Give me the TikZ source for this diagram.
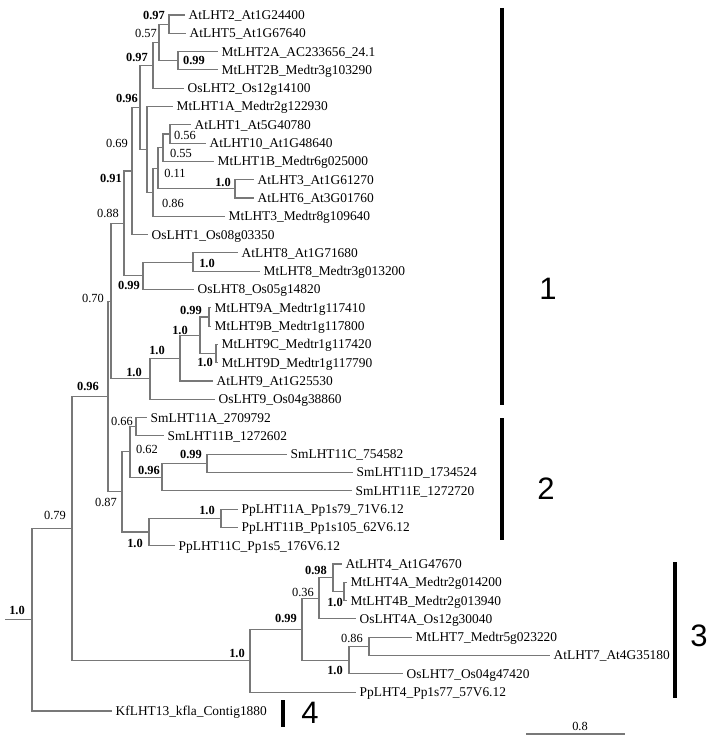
\documentclass[tikz,border=0pt]{standalone}
\usepackage{fontspec}
\setmainfont{Liberation Serif}
\newfontfamily\cladefont{Liberation Sans}
\definecolor{treegray}{RGB}{120,120,120}
\begin{document}
\begin{tikzpicture}[x=1pt,y=-1pt,
  br/.style={draw=treegray, line width=1.1pt},
  leaf/.style={anchor=west, inner xsep=3.5pt, inner ysep=0pt, font=\fontsize{13.4}{14}\selectfont, text height=8.9pt, text depth=0pt},
  bsr/.style={inner sep=0pt, font=\fontsize{12.4}{13}\selectfont, text height=8.4pt, text depth=0pt},
  bsb/.style={bsr, font=\fontsize{12.4}{13}\selectfont\bfseries},
  cbar/.style={line width=4pt, black},
  cl/.style={font=\cladefont\fontsize{31}{32}\selectfont, inner sep=0pt, text height=22pt, text depth=0pt}
]
\useasboundingbox (0,0) rectangle (709,741);

% ---------- leaves ----------
\node[leaf] (L1)  at (185,15)    {AtLHT2\_At1G24400};
\node[leaf] (L2)  at (186,33.3)  {AtLHT5\_At1G67640};
\node[leaf] (L3)  at (218,51.6)  {MtLHT2A\_AC233656\_24.1};
\node[leaf] (L4)  at (218,69.9)  {MtLHT2B\_Medtr3g103290};
\node[leaf] (L5)  at (184,88.2)  {OsLHT2\_Os12g14100};
\node[leaf] (L6)  at (173,106.5) {MtLHT1A\_Medtr2g122930};
\node[leaf] (L7)  at (191,124.8) {AtLHT1\_At5G40780};
\node[leaf] (L8)  at (206,143.1) {AtLHT10\_At1G48640};
\node[leaf] (L9)  at (214,161.4) {MtLHT1B\_Medtr6g025000};
\node[leaf] (L10) at (254,179.7) {AtLHT3\_At1G61270};
\node[leaf] (L11) at (254,198)   {AtLHT6\_At3G01760};
\node[leaf] (L12) at (225,216.3) {MtLHT3\_Medtr8g109640};
\node[leaf] (L13) at (148,234.6) {OsLHT1\_Os08g03350};
\node[leaf] (L14) at (238,252.9) {AtLHT8\_At1G71680};
\node[leaf] (L15) at (260,271.2) {MtLHT8\_Medtr3g013200};
\node[leaf] (L16) at (194,289.5) {OsLHT8\_Os05g14820};
\node[leaf] (L17) at (211,307.8) {MtLHT9A\_Medtr1g117410};
\node[leaf] (L18) at (211,326.1) {MtLHT9B\_Medtr1g117800};
\node[leaf] (L19) at (218,344.4) {MtLHT9C\_Medtr1g117420};
\node[leaf] (L20) at (218,362.7) {MtLHT9D\_Medtr1g117790};
\node[leaf] (L21) at (213,381)   {AtLHT9\_At1G25530};
\node[leaf] (L22) at (215,399.3) {OsLHT9\_Os04g38860};
\node[leaf] (L23) at (147,417.6) {SmLHT11A\_2709792};
\node[leaf] (L24) at (164,435.9) {SmLHT11B\_1272602};
\node[leaf] (L25) at (287,454.2) {SmLHT11C\_754582};
\node[leaf] (L26) at (353,472.5) {SmLHT11D\_1734524};
\node[leaf] (L27) at (352,490.8) {SmLHT11E\_1272720};
\node[leaf] (L28) at (238,509.1) {PpLHT11A\_Pp1s79\_71V6.12};
\node[leaf] (L29) at (238,527.4) {PpLHT11B\_Pp1s105\_62V6.12};
\node[leaf] (L30) at (175,545.7) {PpLHT11C\_Pp1s5\_176V6.12};
\node[leaf] (L31) at (342,564)   {AtLHT4\_At1G47670};
\node[leaf] (L32) at (347,582.3) {MtLHT4A\_Medtr2g014200};
\node[leaf] (L33) at (347,600.6) {MtLHT4B\_Medtr2g013940};
\node[leaf] (L34) at (356,618.9) {OsLHT4A\_Os12g30040};
\node[leaf] (L35) at (412,637.2) {MtLHT7\_Medtr5g023220};
\node[leaf] (L36) at (550,655.5) {AtLHT7\_At4G35180};
\node[leaf] (L37) at (403,673.8) {OsLHT7\_Os04g47420};
\node[leaf] (L38) at (356,692.1) {PpLHT4\_Pp1s77\_57V6.12};
\node[leaf] (L39) at (112,711)   {KfLHT13\_kfla\_Contig1880};

% ---------- internal nodes ----------
\coordinate (N25)    at (169,24.15);
\coordinate (N2AB)   at (178,60.75);
\coordinate (N057)   at (159,42.45);
\coordinate (N097)   at (153,65.33);
\coordinate (N110)   at (170,133.95);
\coordinate (N055)   at (163,147.68);
\coordinate (N36)    at (235,188.85);
\coordinate (N011)   at (158,168.26);
\coordinate (N086)   at (153,192.28);
\coordinate (N1A)    at (147,149.39);
\coordinate (N096a)  at (140,107.36);
\coordinate (N091)   at (132,170.98);
\coordinate (N8)     at (193,262.05);
\coordinate (N899)   at (143,275.78);
\coordinate (N088)   at (124,223.38);
\coordinate (N9AB)   at (209,316.95);
\coordinate (N9CD)   at (216,353.55);
\coordinate (N9ABCD) at (200,335.25);
\coordinate (N9At)   at (180,358.13);
\coordinate (N9Os)   at (150,378.71);
\coordinate (N070)   at (111,301.05);
\coordinate (N11AB)  at (136,426.75);
\coordinate (N11CD)  at (207,463.35);
\coordinate (N11CDE) at (162,477.08);
\coordinate (N062)   at (130,451.91);
\coordinate (NPpAB)  at (221,518.25);
\coordinate (NPp)    at (149,531.98);
\coordinate (N087)   at (122,491.94);
\coordinate (N096b)  at (108,396.5);
\coordinate (N4AB)   at (344,591.45);
\coordinate (N098)   at (333,577.73);
\coordinate (N036)   at (319,598.31);
\coordinate (N7)     at (369,646.35);
\coordinate (N7b)    at (349,660.08);
\coordinate (N099)   at (302,629.19);
\coordinate (Nbig)   at (250,660.65);
\coordinate (N079)   at (72,528.57);
\coordinate (Root)   at (32,619.79);
\coordinate (R0)     at (5,619.79);

% ---------- branches ----------
\draw[br] (N25) |- (L1.west);   \draw[br] (N25) |- (L2.west);
\draw[br] (N2AB) |- (L3.west);  \draw[br] (N2AB) |- (L4.west);
\draw[br] (N057) |- (N25);      \draw[br] (N057) |- (N2AB);
\draw[br] (N097) |- (N057);     \draw[br] (N097) |- (L5.west);
\draw[br] (N110) |- (L7.west);  \draw[br] (N110) |- (L8.west);
\draw[br] (N055) |- (N110);     \draw[br] (N055) |- (L9.west);
\draw[br] (N36) |- (L10.west);  \draw[br] (N36) |- (L11.west);
\draw[br] (N011) |- (N055);     \draw[br] (N011) |- (N36);
\draw[br] (N086) |- (N011);     \draw[br] (N086) |- (L12.west);
\draw[br] (N1A) |- (L6.west);   \draw[br] (N1A) |- (N086);
\draw[br] (N096a) |- (N097);    \draw[br] (N096a) |- (N1A);
\draw[br] (N091) |- (N096a);    \draw[br] (N091) |- (L13.west);
\draw[br] (N8) |- (L14.west);   \draw[br] (N8) |- (L15.west);
\draw[br] (N899) |- (N8);       \draw[br] (N899) |- (L16.west);
\draw[br] (N088) |- (N091);     \draw[br] (N088) |- (N899);
\draw[br] (N9AB) |- (L17.west); \draw[br] (N9AB) |- (L18.west);
\draw[br] (N9CD) |- (L19.west); \draw[br] (N9CD) |- (L20.west);
\draw[br] (N9ABCD) |- (N9AB);   \draw[br] (N9ABCD) |- (N9CD);
\draw[br] (N9At) |- (N9ABCD);   \draw[br] (N9At) |- (L21.west);
\draw[br] (N9Os) |- (N9At);     \draw[br] (N9Os) |- (L22.west);
\draw[br] (N070) |- (N088);     \draw[br] (N070) |- (N9Os);
\draw[br] (N11AB) |- (L23.west); \draw[br] (N11AB) |- (L24.west);
\draw[br] (N11CD) |- (L25.west); \draw[br] (N11CD) |- (L26.west);
\draw[br] (N11CDE) |- (N11CD);  \draw[br] (N11CDE) |- (L27.west);
\draw[br] (N062) |- (N11AB);    \draw[br] (N062) |- (N11CDE);
\draw[br] (NPpAB) |- (L28.west); \draw[br] (NPpAB) |- (L29.west);
\draw[br] (NPp) |- (NPpAB);     \draw[br] (NPp) |- (L30.west);
\draw[br] (N087) |- (N062);     \draw[br] (N087) |- (NPp);
\draw[br] (N096b) |- (N070);    \draw[br] (N096b) |- (N087);
\draw[br] (N4AB) |- (L32.west); \draw[br] (N4AB) |- (L33.west);
\draw[br] (N098) |- (L31.west); \draw[br] (N098) |- (N4AB);
\draw[br] (N036) |- (N098);     \draw[br] (N036) |- (L34.west);
\draw[br] (N7) |- (L35.west);   \draw[br] (N7) |- (L36.west);
\draw[br] (N7b) |- (N7);        \draw[br] (N7b) |- (L37.west);
\draw[br] (N099) |- (N036);     \draw[br] (N099) |- (N7b);
\draw[br] (Nbig) |- (N099);     \draw[br] (Nbig) |- (L38.west);
\draw[br] (N079) |- (N096b);    \draw[br] (N079) |- (Nbig);
\draw[br] (Root) |- (N079);     \draw[br] (Root) |- (L39.west);
\draw[br] (R0) -- (Root);

% ---------- support values ----------
\node[bsb] (b1)  at (154,15)  {0.97};
\node[bsr] (b2)  at (146,33)  {0.57};
\node[bsb] (b3)  at (137,57)  {0.97};
\node[bsb] (b4)  at (194,60)  {0.99};
\node[bsb] (b5)  at (127,98)  {0.96};
\node[bsr] (b6)  at (117,143) {0.69};
\node[bsr] (b7)  at (185,135) {0.56};
\node[bsr] (b8)  at (181,153) {0.55};
\node[bsr] (b9)  at (175,173) {0.11};
\node[bsb] (b10) at (223,182) {1.0};
\node[bsr] (b11) at (173,203) {0.86};
\node[bsb] (b12) at (111,178) {0.91};
\node[bsr] (b13) at (108,213) {0.88};
\node[bsb] (b14) at (207,263) {1.0};
\node[bsb] (b15) at (129,285) {0.99};
\node[bsr] (b16) at (93,298)  {0.70};
\node[bsb] (b17) at (191,310) {0.99};
\node[bsb] (b18) at (180,330) {1.0};
\node[bsb] (b19) at (205,362) {1.0};
\node[bsb] (b20) at (157,350) {1.0};
\node[bsb] (b21) at (134,372) {1.0};
\node[bsb] (b22) at (88,386)  {0.96};
\node[bsr] (b23) at (122,421) {0.66};
\node[bsr] (b24) at (147,449) {0.62};
\node[bsb] (b25) at (191,454) {0.99};
\node[bsb] (b26) at (149,470) {0.96};
\node[bsr] (b27) at (106,502) {0.87};
\node[bsb] (b28) at (207,510) {1.0};
\node[bsb] (b29) at (135,543) {1.0};
\node[bsr] (b30) at (55,515)  {0.79};
\node[bsb] (b31) at (17,610)  {1.0};
\node[bsb] (b32) at (316,570) {0.98};
\node[bsr] (b33) at (303,592) {0.36};
\node[bsb] (b34) at (335,602) {1.0};
\node[bsb] (b35) at (286,618) {0.99};
\node[bsb] (b36) at (237,653) {1.0};
\node[bsr] (b37) at (352,638) {0.86};
\node[bsb] (b38) at (335,670) {1.0};

% ---------- clade bars ----------
\draw[cbar] (502,8) -- (502,405);
\node[cl] (c1) at (548,288) {1};
\draw[cbar] (502,418) -- (502,540);
\node[cl] (c2) at (546,488) {2};
\draw[cbar] (675,562) -- (675,698);
\node[cl] (c3) at (699,635) {3};
\draw[cbar] (283,700) -- (283,727);
\node[cl] (c4) at (310,712) {4};

% ---------- scale bar ----------
\coordinate (S1) at (526,734);
\coordinate (S2) at (625,734);
\draw[br] (S1) -- (S2);
\node[bsr] (sc) at (580,726) {0.8};
\end{tikzpicture}
\end{document}
